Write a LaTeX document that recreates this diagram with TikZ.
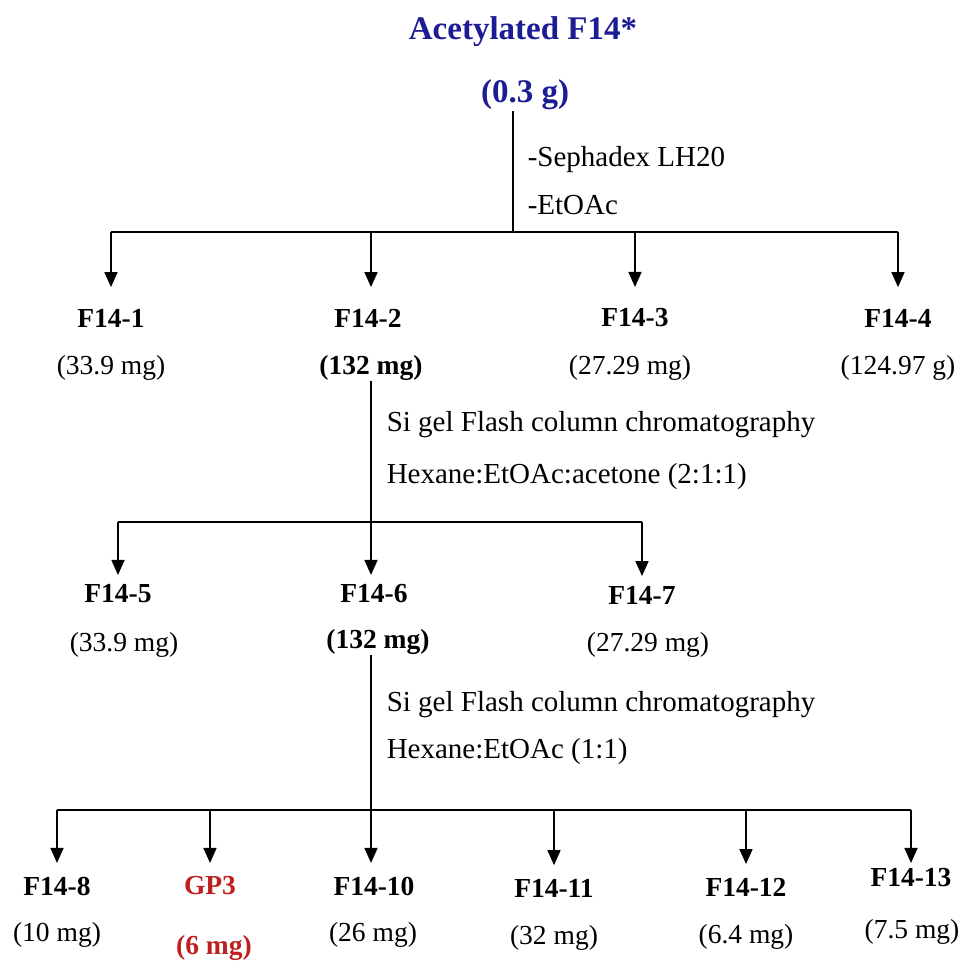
\documentclass[tikz,border=0pt]{standalone}
\usepackage{fontspec}
\setmainfont{Liberation Serif}
\usepackage{xcolor}
\usetikzlibrary{arrows.meta, positioning}

\definecolor{titleblue}{RGB}{28,28,148}
\definecolor{gpred}{RGB}{190,32,32}

\tikzset{
  ttl/.style={font=\fontsize{33}{38}\selectfont\bfseries, text=titleblue, inner sep=0pt},
  lbl/.style={font=\fontsize{27.5}{32}\selectfont\bfseries, inner sep=0pt},
  amt/.style={font=\fontsize{27.5}{32}\selectfont, inner sep=0pt},
  bamt/.style={amt, font=\fontsize{27.5}{32}\selectfont\bfseries},
  note/.style={font=\fontsize{29}{34}\selectfont, inner sep=0pt, anchor=west},
  arr/.style={-{Triangle[width=13pt,length=15pt]}},
}

\begin{document}
\begin{tikzpicture}[x=1pt, y=-1pt, line width=1.6pt]
    \useasboundingbox (0,0) rectangle (963,967);

    % Chất ban đầu
    \node[ttl] (w0) at (523,32) {Acetylated F14*};
    \node[ttl] (w0m) at (525,95) {(0.3 g)};
    \coordinate (j1) at (513,232);
    \node[note] (n1a) at (527,160) {-Sephadex LH20};
    \node[note] (n1b) at (527,205) {-EtOAc};

    % Tầng 1
    \node[lbl] (f1) at (111,318) {F14-1};
    \node[amt] (a1) at (111,368) {(33.9 mg)};
    \node[lbl] (f2) at (368,318) {F14-2};
    \node[bamt] (a2) at (371,368) {(132 mg)};
    \node[lbl] (f3) at (635,318) {F14-3};
    \node[amt] (a3) at (630,368) {(27.29 mg)};
    \node[lbl] (f4) at (898,318) {F14-4};
    \node[amt] (a4) at (898,368) {(124.97 g)};

    \draw (j1 |- w0m.south) -- (j1);
    \draw (j1 -| f1) -- (j1 -| f4);
    \foreach \n in {f1,f3,f4}
        \draw[arr, shorten >=21pt] (j1 -| \n) -- (\n.north);
    \draw[arr, shorten >=21pt] (j1 -| a2) -- (a2 |- f2.north);

    % Tầng 2
    \node[note] (n2a) at (386,425) {Si gel Flash column chromatography};
    \node[note] (n2b) at (386,477) {Hexane:EtOAc:acetone (2:1:1)};
    \coordinate (j2) at (372,522);
    \node[lbl] (f5) at (118,594) {F14-5};
    \node[amt] (a5) at (124,645) {(33.9 mg)};
    \node[lbl] (f6) at (374,594) {F14-6};
    \node[bamt] (a6) at (378,642) {(132 mg)};
    \node[lbl] (f7) at (642,595) {F14-7};
    \node[amt] (a7) at (648,645) {(27.29 mg)};

    \draw[arr, shorten >=9pt] (a2.south) -- (a2 |- f6.north);
    \draw (j2 -| f5) -- (j2 -| f7);
    \foreach \n in {f5,f7}
        \draw[arr, shorten >=9pt] (j2 -| \n) -- (\n.north);

    % Tầng 3
    \node[note] (n3a) at (386,705) {Si gel Flash column chromatography};
    \node[note] (n3b) at (386,752) {Hexane:EtOAc (1:1)};
    \coordinate (j3) at (372,810);
    \node[lbl] (f8) at (57,886) {F14-8};
    \node[amt] (a8) at (57,935) {(10 mg)};
    \node[lbl, text=gpred] (gp3) at (210,886) {GP3};
    \node[bamt, text=gpred] (a9) at (214,948) {(6 mg)};
    \node[lbl] (f10) at (374,886) {F14-10};
    \node[amt] (a10) at (373,935) {(26 mg)};
    \node[lbl] (f11) at (554,888) {F14-11};
    \node[amt] (a11) at (554,938) {(32 mg)};
    \node[lbl] (f12) at (746,887) {F14-12};
    \node[amt] (a12) at (746,937) {(6.4 mg)};
    \node[lbl] (f13) at (911,878) {F14-13};
    \node[amt] (a13) at (912,932) {(7.5 mg)};

    \draw[arr, shorten >=13pt] (a2 |- a6.south) -- (a2 |- f10.north);
    \draw (j3 -| f8) -- (j3 -| f13);
    \foreach \n/\s in {f8/13,gp3/13,f11/13,f12/13,f13/5}
        \draw[arr, shorten >=\s pt] (j3 -| \n) -- (\n.north);
\end{tikzpicture}
\end{document}
